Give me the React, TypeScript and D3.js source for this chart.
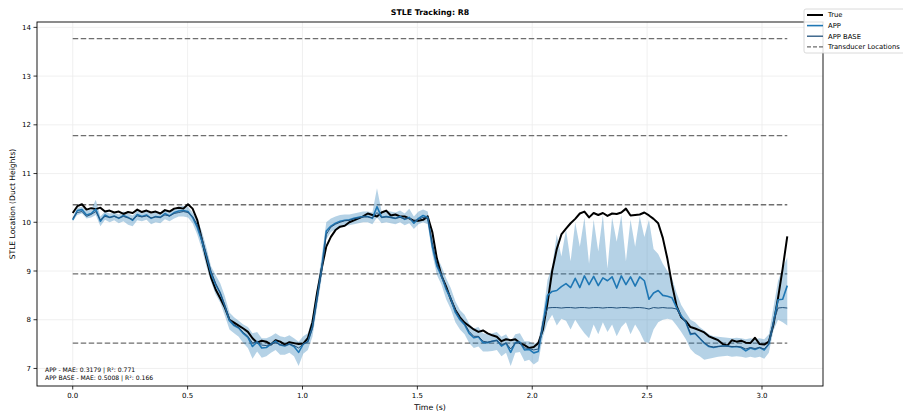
import React from 'react';
import * as d3 from 'd3';

// sampled series, evenly spaced from 0 to T_END seconds
const T_END = 3.11;

const trueVals = [
  10.19, 10.33, 10.37, 10.26, 10.29, 10.27, 10.30, 10.22, 10.24, 10.20,
  10.22, 10.17, 10.21, 10.19, 10.26, 10.21, 10.24, 10.20, 10.22, 10.18,
  10.25, 10.22, 10.28, 10.30, 10.28, 10.37, 10.28, 10.05, 9.65, 9.25,
  8.87, 8.62, 8.44, 8.25, 8.00, 7.94, 7.88, 7.82, 7.75, 7.62,
  7.53, 7.57, 7.55, 7.49, 7.58, 7.55, 7.49, 7.54, 7.52, 7.50,
  7.51, 7.62, 7.95, 8.55, 9.05, 9.50, 9.70, 9.84, 9.91, 9.93,
  10.00, 10.04, 10.08, 10.12, 10.18, 10.15, 10.12, 10.20, 10.24, 10.14,
  10.16, 10.12, 10.12, 10.08, 10.03, 10.03, 10.05, 10.12, 9.80, 9.25,
  8.90, 8.68, 8.42, 8.20, 8.05, 7.94, 7.87, 7.80, 7.75, 7.78,
  7.72, 7.68, 7.65, 7.56, 7.60, 7.58, 7.60, 7.52, 7.48, 7.42,
  7.44, 7.52, 7.80, 8.35, 9.00, 9.45, 9.75, 9.87, 9.98, 10.07,
  10.18, 10.22, 10.10, 10.19, 10.15, 10.19, 10.13, 10.18, 10.17, 10.20,
  10.28, 10.14, 10.15, 10.16, 10.20, 10.14, 10.07, 9.98, 9.68, 9.25,
  8.72, 8.28, 8.05, 7.97, 7.85, 7.82, 7.78, 7.74, 7.66, 7.62,
  7.58, 7.50, 7.47, 7.58, 7.55, 7.57, 7.53, 7.52, 7.63, 7.50,
  7.49, 7.55, 7.90, 8.45, 9.05, 9.71,
];

const appVals = [
  10.05, 10.24, 10.26, 10.15, 10.18, 10.27, 10.02, 10.15, 10.10, 10.13,
  10.08, 10.14, 10.10, 10.04, 10.16, 10.12, 10.15, 10.08, 10.12, 10.10,
  10.18, 10.13, 10.20, 10.23, 10.24, 10.22, 10.10, 9.90, 9.62, 9.30,
  8.95, 8.72, 8.55, 8.28, 7.98, 7.88, 7.83, 7.72, 7.64, 7.45,
  7.55, 7.42, 7.43, 7.50, 7.56, 7.48, 7.46, 7.50, 7.45, 7.33,
  7.50, 7.55, 7.85, 8.45, 9.05, 9.82, 9.92, 9.98, 10.02, 10.04,
  10.05, 10.08, 10.10, 10.12, 10.12, 10.08, 10.32, 10.10, 10.12, 10.10,
  10.08, 10.12, 10.06, 10.10, 9.98, 10.08, 10.14, 10.10, 9.50, 9.10,
  8.90, 8.62, 8.43, 8.15, 8.00, 7.90, 7.72, 7.63, 7.65, 7.53,
  7.53, 7.56, 7.58, 7.46, 7.52, 7.33, 7.53, 7.54, 7.38, 7.39,
  7.32, 7.35, 7.90, 8.50, 8.58, 8.60, 8.68, 8.74, 8.66, 8.85,
  8.66, 8.90, 8.72, 8.89, 8.70, 8.86, 8.80, 8.88, 8.65, 8.90,
  8.72, 8.88, 8.69, 8.88, 8.80, 8.42, 8.55, 8.60, 8.50, 8.48,
  8.45, 8.25, 8.08, 7.95, 7.70, 7.72, 7.62, 7.52, 7.45, 7.43,
  7.45, 7.46, 7.46, 7.44, 7.45, 7.43, 7.36, 7.42, 7.39, 7.43,
  7.38, 7.50, 7.95, 8.41, 8.42, 8.70,
];

const appBaseVals = [
  10.08, 10.20, 10.22, 10.12, 10.16, 10.22, 10.05, 10.12, 10.10, 10.12,
  10.09, 10.12, 10.09, 10.06, 10.13, 10.11, 10.13, 10.09, 10.11, 10.10,
  10.15, 10.13, 10.18, 10.20, 10.22, 10.20, 10.12, 9.95, 9.68, 9.35,
  9.00, 8.75, 8.55, 8.30, 8.02, 7.90, 7.84, 7.74, 7.66, 7.52,
  7.55, 7.48, 7.47, 7.50, 7.53, 7.49, 7.47, 7.50, 7.47, 7.42,
  7.50, 7.55, 7.82, 8.40, 9.00, 9.75, 9.90, 9.96, 10.00, 10.03,
  10.04, 10.07, 10.09, 10.11, 10.11, 10.09, 10.20, 10.10, 10.11, 10.10,
  10.08, 10.10, 10.07, 10.08, 10.02, 10.06, 10.10, 10.08, 9.58, 9.15,
  8.92, 8.66, 8.46, 8.20, 8.03, 7.92, 7.76, 7.66, 7.66, 7.56,
  7.54, 7.56, 7.57, 7.49, 7.52, 7.40, 7.52, 7.53, 7.42, 7.41,
  7.38, 7.40, 7.95, 8.24, 8.25, 8.25, 8.24, 8.25, 8.25, 8.24,
  8.25, 8.25, 8.24, 8.25, 8.25, 8.24, 8.25, 8.25, 8.24, 8.25,
  8.25, 8.24, 8.25, 8.25, 8.24, 8.22, 8.25, 8.24, 8.25, 8.24,
  8.24, 8.22, 8.05, 7.95, 7.72, 7.72, 7.62, 7.53, 7.46, 7.44,
  7.45, 7.46, 7.46, 7.45, 7.45, 7.44, 7.40, 7.43, 7.41, 7.43,
  7.40, 7.50, 7.95, 8.24, 8.25, 8.24,
];

const bandLow = [
  10.02, 10.15, 10.18, 10.08, 10.10, 10.15, 9.92, 10.05, 10.00, 10.04,
  9.98, 10.02, 9.95, 9.92, 10.04, 10.02, 10.05, 9.96, 10.00, 9.98,
  10.06, 10.02, 10.08, 10.12, 10.12, 10.10, 9.98, 9.75, 9.45, 9.10,
  8.78, 8.52, 8.35, 8.08, 7.80, 7.72, 7.65, 7.52, 7.42, 7.20,
  7.35, 7.22, 7.25, 7.32, 7.38, 7.28, 7.28, 7.32, 7.25, 7.05,
  7.30, 7.38, 7.65, 8.25, 8.85, 9.65, 9.80, 9.85, 9.90, 9.92,
  9.94, 9.96, 9.98, 10.00, 10.00, 9.96, 10.10, 9.98, 10.00, 9.98,
  9.96, 10.00, 9.94, 9.98, 9.86, 9.96, 10.00, 9.96, 9.35, 8.92,
  8.72, 8.42, 8.22, 7.95, 7.80, 7.70, 7.52, 7.42, 7.45, 7.35,
  7.35, 7.36, 7.38, 7.25, 7.32, 7.05, 7.32, 7.34, 7.15, 7.18,
  7.08, 7.15, 7.65, 7.95, 8.10, 7.88, 8.02, 7.98, 7.80, 8.00,
  7.85, 7.72, 7.62, 7.90, 7.70, 7.95, 7.75, 7.90, 7.66, 7.85,
  7.95, 7.70, 7.90, 7.75, 7.55, 7.52, 7.80, 7.95, 8.00, 8.02,
  8.00, 7.88, 7.75, 7.60, 7.40, 7.30, 7.25, 7.18, 7.20, 7.22,
  7.24, 7.25, 7.26, 7.24, 7.25, 7.24, 7.22, 7.24, 7.22, 7.24,
  7.20, 7.32, 7.78, 8.00, 7.95, 7.88,
];

const bandHigh = [
  10.10, 10.30, 10.32, 10.24, 10.26, 10.46, 10.12, 10.22, 10.18, 10.20,
  10.16, 10.22, 10.18, 10.14, 10.24, 10.20, 10.22, 10.18, 10.20, 10.20,
  10.26, 10.22, 10.28, 10.32, 10.34, 10.32, 10.20, 10.05, 9.82, 9.48,
  9.10, 8.92, 8.75, 8.48, 8.15, 8.05, 7.98, 7.90, 7.85, 7.72,
  7.75, 7.62, 7.62, 7.66, 7.72, 7.66, 7.64, 7.68, 7.62, 7.55,
  7.66, 7.72, 8.05, 8.65, 9.30, 10.00, 10.08, 10.12, 10.15, 10.16,
  10.16, 10.18, 10.20, 10.22, 10.22, 10.20, 10.70, 10.22, 10.24, 10.22,
  10.20, 10.24, 10.18, 10.28, 10.12, 10.22, 10.26, 10.22, 9.70, 9.30,
  9.10, 8.85, 8.65, 8.38, 8.20, 8.10, 7.92, 7.82, 7.85, 7.72,
  7.70, 7.72, 7.75, 7.65, 7.70, 7.55, 7.70, 7.72, 7.56, 7.56,
  7.50, 7.55, 8.10, 8.82, 9.10, 9.75, 9.30, 9.85, 9.20, 10.00,
  9.50, 10.10, 9.15, 10.05, 9.40, 10.15, 9.05, 10.10, 9.60, 10.15,
  9.20, 10.05, 9.50, 10.12, 9.70, 10.05, 9.45, 9.35, 9.15, 9.00,
  8.85, 8.55, 8.30, 8.15, 8.00, 7.95, 7.85, 7.78, 7.70, 7.66,
  7.65, 7.64, 7.63, 7.62, 7.63, 7.62, 7.60, 7.62, 7.60, 7.62,
  7.60, 7.70, 8.25, 8.80, 9.05, 9.28,
];

const transducerLocations = [7.52, 8.94, 10.36, 11.78, 13.77];
const xTicks = [0, 0.5, 1.0, 1.5, 2.0, 2.5, 3.0];
const yTicks = [7, 8, 9, 10, 11, 12, 13, 14];
const statsLines = ['APP - MAE: 0.3179 | R²: 0.771', 'APP BASE - MAE: 0.5008 | R²: 0.166'];

const COLORS = { true: '#000000', app: '#1f77b4', base: '#23527c', trans: '#6e6e6e' };

const legendItems = [
  { label: 'True', color: COLORS.true, width: 2, dash: '' },
  { label: 'APP', color: COLORS.app, width: 1.6, dash: '' },
  { label: 'APP BASE', color: COLORS.base, width: 1.3, dash: '' },
  { label: 'Transducer Locations', color: COLORS.trans, width: 1.3, dash: '4,2' },
];

const W = 903;
const H = 413;
const margin = { top: 22, right: 80, bottom: 27, left: 37 };
const FONT = '"DejaVu Sans", sans-serif';

const times = trueVals.map((_, i) => (i * T_END) / (trueVals.length - 1));

const App = () => {
  const x = d3.scaleLinear().domain([-0.1555, 3.2655]).range([margin.left, W - margin.right]);
  const y = d3.scaleLinear().domain([6.64, 14.11]).range([H - margin.bottom, margin.top]);

  const line = (vals: number[]) =>
    d3.line<number>().x((_, i) => x(times[i])).y(d => y(d))(vals) || '';

  const band =
    d3
      .area<number>()
      .x((_, i) => x(times[i]))
      .y0((_, i) => y(bandLow[i]))
      .y1(d => y(d))(bandHigh) || '';

  const x0 = margin.left;
  const x1 = W - margin.right;
  const y0 = H - margin.bottom;
  const y1 = margin.top;

  return (
    <svg
      width={W}
      height={H}
      style={{ position: 'absolute', left: 0, top: 0, fontFamily: FONT }}
    >
      <rect x={0} y={0} width={W} height={H} fill="#fff" />

      {/* grid */}
      {xTicks.map(t => (
        <line key={'gx' + t} x1={x(t)} x2={x(t)} y1={y1} y2={y0} stroke="#ececec" strokeWidth={0.8} />
      ))}
      {yTicks.map(t => (
        <line key={'gy' + t} x1={x0} x2={x1} y1={y(t)} y2={y(t)} stroke="#ececec" strokeWidth={0.8} />
      ))}

      {/* transducer locations */}
      {transducerLocations.map(v => (
        <line
          key={'tr' + v}
          x1={x(0)}
          x2={x(T_END)}
          y1={y(v)}
          y2={y(v)}
          stroke={COLORS.trans}
          strokeWidth={1.3}
          strokeDasharray="5.5,2.5"
        />
      ))}

      <path d={band} fill={COLORS.app} fillOpacity={0.33} stroke="none" />
      <path d={line(trueVals)} fill="none" stroke={COLORS.true} strokeWidth={2} strokeLinejoin="round" />
      <path d={line(appVals)} fill="none" stroke={COLORS.app} strokeWidth={1.6} strokeLinejoin="round" />
      <path d={line(appBaseVals)} fill="none" stroke={COLORS.base} strokeWidth={1} strokeLinejoin="round" />

      {/* spines */}
      <rect x={x0} y={y1} width={x1 - x0} height={y0 - y1} fill="none" stroke="#000" strokeWidth={0.9} />

      {/* x axis */}
      {xTicks.map(t => (
        <g key={'xt' + t}>
          <line x1={x(t)} x2={x(t)} y1={y0} y2={y0 + 3.5} stroke="#000" strokeWidth={0.8} />
          <text x={x(t)} y={y0 + 12} fontSize={7} textAnchor="middle" fill="#000">
            {t.toFixed(1)}
          </text>
        </g>
      ))}
      {yTicks.map(t => (
        <g key={'yt' + t}>
          <line x1={x0 - 3.5} x2={x0} y1={y(t)} y2={y(t)} stroke="#000" strokeWidth={0.8} />
          <text x={x0 - 6} y={y(t) + 2.5} fontSize={7} textAnchor="end" fill="#000">
            {t}
          </text>
        </g>
      ))}

      <text x={(x0 + x1) / 2} y={H - 3} fontSize={7.8} textAnchor="middle">
        Time (s)
      </text>
      <text
        transform={`translate(15, ${(y0 + y1) / 2}) rotate(-90)`}
        fontSize={7.6}
        textAnchor="middle"
      >
        STLE Location (Duct Heights)
      </text>
      <text x={(x0 + x1) / 2} y={15} fontSize={7.8} fontWeight="bold" textAnchor="middle">
        STLE Tracking: R8
      </text>

      {/* stats */}
      {statsLines.map((s, i) => (
        <text key={s} x={45} y={372 + i * 7.6} fontSize={6.1} fill="#000">
          {s}
        </text>
      ))}

      {/* legend */}
      <g transform="translate(804, 9)">
        <rect x={0} y={0} width={110} height={44} rx={2} fill="#fff" fillOpacity={0.85} stroke="#d0d0d0" strokeWidth={0.8} />
        {legendItems.map((it, i) => (
          <g key={it.label} transform={`translate(0, ${6 + i * 10.6})`}>
            <line
              x1={3}
              x2={19}
              y1={0}
              y2={0}
              stroke={it.color}
              strokeWidth={it.width}
              strokeDasharray={it.dash || undefined}
            />
            <text x={24} y={2.4} fontSize={6.8} fill="#000">
              {it.label}
            </text>
          </g>
        ))}
      </g>
    </svg>
  );
};

export default App;
